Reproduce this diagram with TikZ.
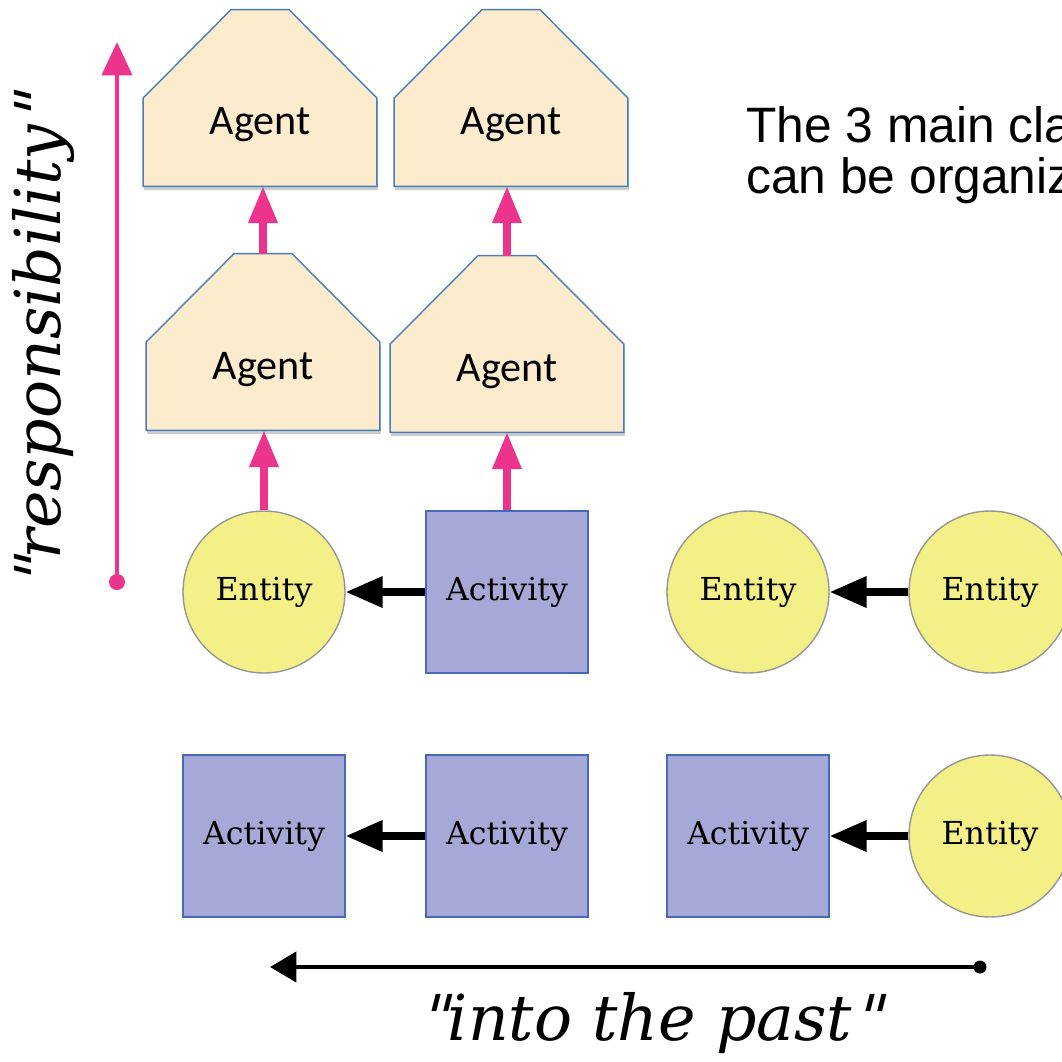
\documentclass[tikz,border=0pt]{standalone}
\usepackage{fontspec}
\usetikzlibrary{arrows.meta,shadows,calc}
\newfontfamily\agentfont{Carlito}
\newfontfamily\provfont{DejaVu Serif}
\newfontfamily\quotefont{DejaVu Serif}[FakeSlant=0.25]
\newfontfamily\notefont{Liberation Sans}
\definecolor{agentfill}{RGB}{252,235,205}
\definecolor{agentline}{RGB}{74,126,187}
\definecolor{entityfill}{RGB}{244,240,136}
\definecolor{entityline}{RGB}{150,150,150}
\definecolor{activityfill}{RGB}{166,169,215}
\definecolor{activityline}{RGB}{72,104,184}
\definecolor{resp}{RGB}{236,52,140}

% house-shaped outline around an agent node
\newcommand\agentoutline[1]{%
  \draw[agentline, line width=0.8pt, fill=agentfill,
        drop shadow={shadow xshift=0.6pt, shadow yshift=-2.2pt, opacity=0.4}]
    (#1.south west) -- (#1.west) -- ([xshift=-0.58cm]#1.north)
    -- ([xshift=0.58cm]#1.north) -- (#1.east) -- (#1.south east) -- cycle;}
% slanted straight double quote
\newcommand\sq{{\quotefont\upshape"}}

\begin{document}
\begin{tikzpicture}[x=0.02cm, y=-0.02cm,
  agent/.style={rectangle, minimum width=4.66cm, minimum height=3.52cm, inner sep=0},
  agentlabel/.style={anchor=base, inner sep=0, font=\agentfont\fontsize{24}{28}\selectfont},
  provnode/.style={minimum size=3.24cm, inner sep=0, line width=0.8pt,
                   font=\provfont\fontsize{18}{22}\selectfont},
  entity/.style={provnode, circle, draw=entityline, fill=entityfill},
  activity/.style={provnode, rectangle, draw=activityline, fill=activityfill},
  derived/.style={-{Triangle[length=21pt,width=17pt]}, line width=4pt, black},
  chain/.style={-{Triangle[length=21pt,width=16pt]}, line width=4pt, resp},
  axislabel/.style={inner sep=0, anchor=base, font=\provfont\itshape\fontsize{36}{40}\selectfont},
  note/.style={inner sep=0, anchor=base west, font=\notefont\fontsize{28.3}{30}\selectfont},
]
\useasboundingbox (0,0) rectangle (1062,1062);
\clip (0,0) rectangle (1062,1062);

% agents
\node[agent] (ag1) at (260,98) {};
\node[agent] (ag2) at (511,98) {};
\node[agent] (ag3) at (263,342) {};
\node[agent] (ag4) at (507,344) {};
\agentoutline{ag1}
\agentoutline{ag2}
\agentoutline{ag3}
\agentoutline{ag4}
\node[agentlabel] (ag1t) at ([yshift=-0.74cm]ag1.center) {Agent};
\node[agentlabel] (ag2t) at ([yshift=-0.74cm]ag2.center) {Agent};
\node[agentlabel] (ag3t) at ([yshift=-0.76cm]ag3.center) {Agent};
\node[agentlabel] (ag4t) at ([yshift=-0.76cm]ag4.center) {Agent};

% entities and activities
\node[entity]   (e1) at (264,592) {Entity};
\node[activity] (a1) at (507,592) {Activity};
\node[entity]   (e2) at (748,592) {Entity};
\node[entity]   (e3) at (990,592) {Entity};
\node[activity] (a2) at (264,836) {Activity};
\node[activity] (a3) at (507,836) {Activity};
\node[activity] (a4) at (748,836) {Activity};
\node[entity]   (e4) at (990,836) {Entity};

% derivation arrows
\draw[derived] (a1.west) -- (e1.east);
\draw[derived] (e3.west) -- (e2.east);
\draw[derived] (a3.west) -- (a2.east);
\draw[derived] (e4.west) -- (a4.east);

% responsibility arrows
\draw[chain] (e1.north) -- (e1.north |- ag3.south);
\draw[chain] (a1.north) -- (a1.north |- ag4.south);
\draw[chain] (ag3.north) -- (ag3.north |- ag1.south);
\draw[chain] (ag4.north) -- (ag4.north |- ag2.south);

% vertical axis
\coordinate (rbase) at (117,582);
\coordinate (rtip) at (117,42);
\draw[resp, line width=2.8pt, -{Triangle[length=19pt,width=17pt]}] (rbase) -- (rtip);
\fill[resp] (rbase) circle[radius=0.16cm];
\node[axislabel, rotate=90] (resptext) at (60,342) {\sq responsibility\sq};

% horizontal axis
\coordinate (pbase) at (980,967);
\coordinate (ptip) at (270,967);
\draw[line width=2.8pt, -{Triangle[length=15pt,width=17pt]}] (pbase) -- (ptip);
\fill (pbase) circle[radius=0.13cm];
\node[axislabel] (pasttext) at (650,1040) {\sq into the past\sq};

% note
\node[note] (n1) at (746,142) {The 3 main classes};
\node[note] (n2) at (746,193) {can be organized};
\end{tikzpicture}
\end{document}
